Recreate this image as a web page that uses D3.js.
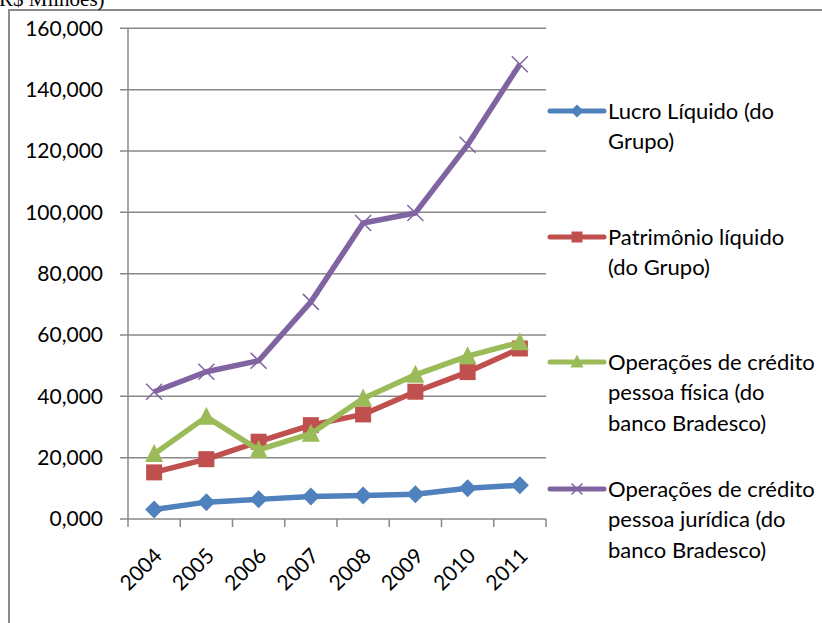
<!DOCTYPE html>
<html>
<head>
<meta charset="utf-8">
<script src="https://cdn.jsdelivr.net/npm/d3@7"></script>
<style>
  body { margin: 0; background: #fff; }
  svg { display: block; }
  text { font-family: Lato, "Open Sans", sans-serif; fill: #000; }
</style>
</head>
<body>
<svg id="chart" width="822" height="623"></svg>
<script>
// data (R$ milhões)
var years = ["2004", "2005", "2006", "2007", "2008", "2009", "2010", "2011"];
var lucro = [3100, 5500, 6400, 7300, 7700, 8100, 10000, 11000];
var patrimonio = [15200, 19500, 25200, 30600, 34100, 41500, 47900, 55600];
var credPF = [21200, 33300, 22500, 27800, 39300, 47000, 53100, 57600];
var credPJ = [41500, 48000, 51600, 70800, 96500, 99800, 122000, 148300];
var yTicks = [0, 20000, 40000, 60000, 80000, 100000, 120000, 140000, 160000];
var seriesNames = [
    ["Lucro Líquido (do", "Grupo)"],
    ["Patrimônio líquido", "(do Grupo)"],
    ["Operações de crédito", "pessoa física (do", "banco Bradesco)"],
    ["Operações de crédito", "pessoa jurídica (do", "banco Bradesco)"]
];

var series = [
    {values: lucro, color: "#4F81BD", marker: "diamond"},
    {values: patrimonio, color: "#C0504D", marker: "square"},
    {values: credPF, color: "#9BBB59", marker: "triangle"},
    {values: credPJ, color: "#8064A2", marker: "x"}
];

var svg = d3.select("#chart");

var plotLeft = 128, plotRight = 546, plotTop = 28.3, plotBottom = 519;

// outer frame (only top and left visible)
svg.append("path")
    .attr("d", "M9,623 L9,10 L822,10")
    .style("fill", "none")
    .style("stroke", "#8c8c8c")
    .style("stroke-width", 2);

// cut-off caption above
svg.append("text")
    .attr("x", -1)
    .attr("y", 6)
    .style("font-family", "'Liberation Serif', serif")
    .style("font-size", "21px")
    .text("R$ Milhões)");

var xScale = d3.scaleBand()
    .domain(years)
    .range([plotLeft, plotRight]);

var yScale = d3.scaleLinear()
    .domain([0, 160000])
    .range([plotBottom, plotTop]);

var fmt = function(v) { return d3.format(",")(v / 1000) + ",000"; };

// gridlines
svg.selectAll(".grid")
    .data(yTicks)
    .enter().append("line")
    .attr("class", "grid")
    .attr("x1", plotLeft - 8)
    .attr("x2", plotRight)
    .attr("y1", function(d) { return yScale(d); })
    .attr("y2", function(d) { return yScale(d); })
    .style("stroke", "#888")
    .style("stroke-width", 1.5);

// y axis line
svg.append("line")
    .attr("x1", plotLeft).attr("x2", plotLeft)
    .attr("y1", plotTop).attr("y2", plotBottom)
    .style("stroke", "#888")
    .style("stroke-width", 1.5);

// x tick marks
var xEdges = years.map(function(d) { return xScale(d); }).concat([plotRight]);
svg.selectAll(".xtick")
    .data(xEdges)
    .enter().append("line")
    .attr("class", "xtick")
    .attr("x1", function(d) { return d; })
    .attr("x2", function(d) { return d; })
    .attr("y1", plotBottom)
    .attr("y2", plotBottom + 8)
    .style("stroke", "#888")
    .style("stroke-width", 1.5);

// y labels
svg.selectAll(".ylab")
    .data(yTicks)
    .enter().append("text")
    .attr("class", "ylab")
    .attr("x", 103)
    .attr("y", function(d) { return yScale(d); })
    .attr("dy", "0.35em")
    .style("text-anchor", "end")
    .style("font-size", "21px")
    .text(function(d) { return d === 0 ? "0,000" : fmt(d); });

// x labels
svg.selectAll(".xlab")
    .data(years)
    .enter().append("text")
    .attr("class", "xlab")
    .attr("transform", function(d) {
        var cx = xScale(d) + xScale.bandwidth() / 2 + 4;
        return "translate(" + cx + "," + (plotBottom + 33) + ") rotate(-45)";
    })
    .attr("dy", "0.35em")
    .style("text-anchor", "end")
    .style("font-size", "21px")
    .text(function(d) { return d; });

function drawMarker(g, type, color, size) {
    var s = size / 2;
    if (type === "diamond") {
        g.append("path").attr("d", "M0," + (-s - 1) + " L" + (s + 1) + ",0 L0," + (s + 1) + " L" + (-s - 1) + ",0Z")
            .style("fill", color);
    } else if (type === "square") {
        g.append("rect").attr("x", -s).attr("y", -s).attr("width", size).attr("height", size)
            .style("fill", color);
    } else if (type === "triangle") {
        g.append("path").attr("d", "M0," + (-s - 2) + " L" + (s + 1) + "," + (s) + " L" + (-s - 1) + "," + (s) + "Z")
            .style("fill", color);
    } else {
        g.append("path").attr("d", "M" + (-s) + "," + (-s) + " L" + s + "," + s + " M" + s + "," + (-s) + " L" + (-s) + "," + s)
            .style("stroke", color).style("stroke-width", 1.5).style("fill", "none");
    }
}

var line = d3.line()
    .x(function(d, i) { return xScale(years[i]) + xScale.bandwidth() / 2; })
    .y(function(d) { return yScale(d); });

series.forEach(function(s) {
    svg.append("path")
        .datum(s.values)
        .attr("d", line)
        .style("fill", "none")
        .style("stroke", s.color)
        .style("stroke-width", 5.5)
        .style("stroke-linejoin", "round");
    s.values.forEach(function(v, i) {
        var g = svg.append("g")
            .attr("transform", "translate(" + (xScale(years[i]) + xScale.bandwidth() / 2) + "," + yScale(v) + ")");
        drawMarker(g, s.marker, s.color, 16);
    });
});

// legend
var legendY = [111, 237, 362, 489];
series.forEach(function(s, k) {
    var g = svg.append("g").attr("transform", "translate(0," + legendY[k] + ")");
    g.append("line")
        .attr("x1", 550).attr("x2", 604)
        .style("stroke", s.color)
        .style("stroke-width", 5)
        .style("stroke-linecap", "round");
    var m = g.append("g").attr("transform", "translate(577,0)");
    drawMarker(m, s.marker, s.color, 11);
    seriesNames[k].forEach(function(txt, j) {
        g.append("text")
            .attr("x", 608)
            .attr("y", j * 30.6)
            .attr("dy", "0.35em")
            .style("font-size", "22px")
            .text(txt);
    });
});
</script>
</body>
</html>
